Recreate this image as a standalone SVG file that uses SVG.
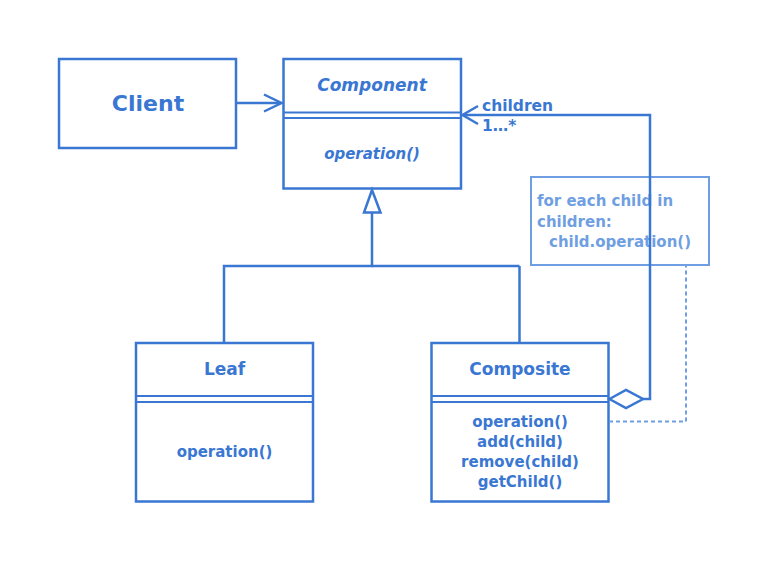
<svg xmlns="http://www.w3.org/2000/svg" width="769" height="563" viewBox="0 0 769 563">
<style>
.box{fill:#fff;stroke:#3a77d2;stroke-width:2.5}
.sep{stroke:#3a77d2;stroke-width:2;fill:none}
.ln{stroke:#3a77d2;stroke-width:2.5;fill:none}
.t{font-family:"DejaVu Sans",Verdana,sans-serif;font-weight:bold;fill:#3a77d2;text-anchor:middle}
.note{fill:#fff;stroke:#6f9fe2;stroke-width:2}
.nt{font-family:"DejaVu Sans",Verdana,sans-serif;font-weight:bold;fill:#6f9fe2;font-size:15px}
</style>
<rect width="769" height="563" fill="#fff"/>
<g id="note">
<rect class="note" x="531" y="177" width="178" height="88"/>
<text class="nt" x="537" y="206">for each child in</text>
<text class="nt" x="537" y="227">children:</text>
<text class="nt" x="549" y="247">child.operation()</text>
</g>
<g id="client">
<rect class="box" x="59" y="59" width="177" height="89"/>
<text class="t" x="148" y="111" font-size="22">Client</text>
</g>
<g id="component">
<rect class="box" x="283.5" y="59" width="177.5" height="129.5"/>
<line class="sep" x1="283.5" y1="112.5" x2="461" y2="112.5"/>
<line class="sep" x1="283.5" y1="118" x2="461" y2="118"/>
<text class="t" x="372" y="91" font-size="17" font-style="italic">Component</text>
<text class="t" x="372" y="159" font-size="15" font-style="italic">operation()</text>
</g>
<g id="leaf">
<rect class="box" x="136" y="343" width="177" height="158.5"/>
<line class="sep" x1="136" y1="396" x2="313" y2="396"/>
<line class="sep" x1="136" y1="402" x2="313" y2="402"/>
<text class="t" x="224.5" y="375" font-size="17">Leaf</text>
<text class="t" x="224.5" y="457" font-size="15">operation()</text>
</g>
<g id="composite">
<rect class="box" x="431.5" y="343" width="177" height="158.5"/>
<line class="sep" x1="431.5" y1="396" x2="608.5" y2="396"/>
<line class="sep" x1="431.5" y1="402" x2="608.5" y2="402"/>
<text class="t" x="520" y="375" font-size="17">Composite</text>
<text class="t" x="520" y="427" font-size="15">operation()</text>
<text class="t" x="520" y="447" font-size="15">add(child)</text>
<text class="t" x="520" y="467" font-size="15">remove(child)</text>
<text class="t" x="520" y="487" font-size="15">getChild()</text>
</g>
<g id="connectors">
<line class="ln" x1="236" y1="103" x2="281" y2="103"/>
<polyline class="ln" points="264,94.5 281.5,103 264,111.5"/>
<polygon class="ln" points="372,190 364,212.5 380.5,212.5" fill="#fff"/>
<polyline class="ln" points="372,212.5 372,266 224,266 224,343"/>
<line class="ln" x1="372" y1="266" x2="519.5" y2="266"/>
<line class="ln" x1="519.5" y1="266" x2="519.5" y2="343"/>
<polyline class="ln" points="643,399 650,399 650,115 463,115"/>
<polyline class="ln" points="478,106 462.5,115 478,124"/>
<polygon class="ln" points="609.5,399 626,390 643,399 626,408" fill="#fff"/>
<polyline points="609,421.5 686,421.5 686,266" fill="none" stroke="#6f9fe2" stroke-width="2" stroke-dasharray="4,3"/>
<text x="482" y="111" font-family="DejaVu Sans,Verdana,sans-serif" font-weight="bold" font-size="15.5" fill="#3a77d2">children</text>
<text x="482" y="131" font-family="DejaVu Sans,Verdana,sans-serif" font-weight="bold" font-size="15.5" fill="#3a77d2">1…*</text>
</g>
</svg>
